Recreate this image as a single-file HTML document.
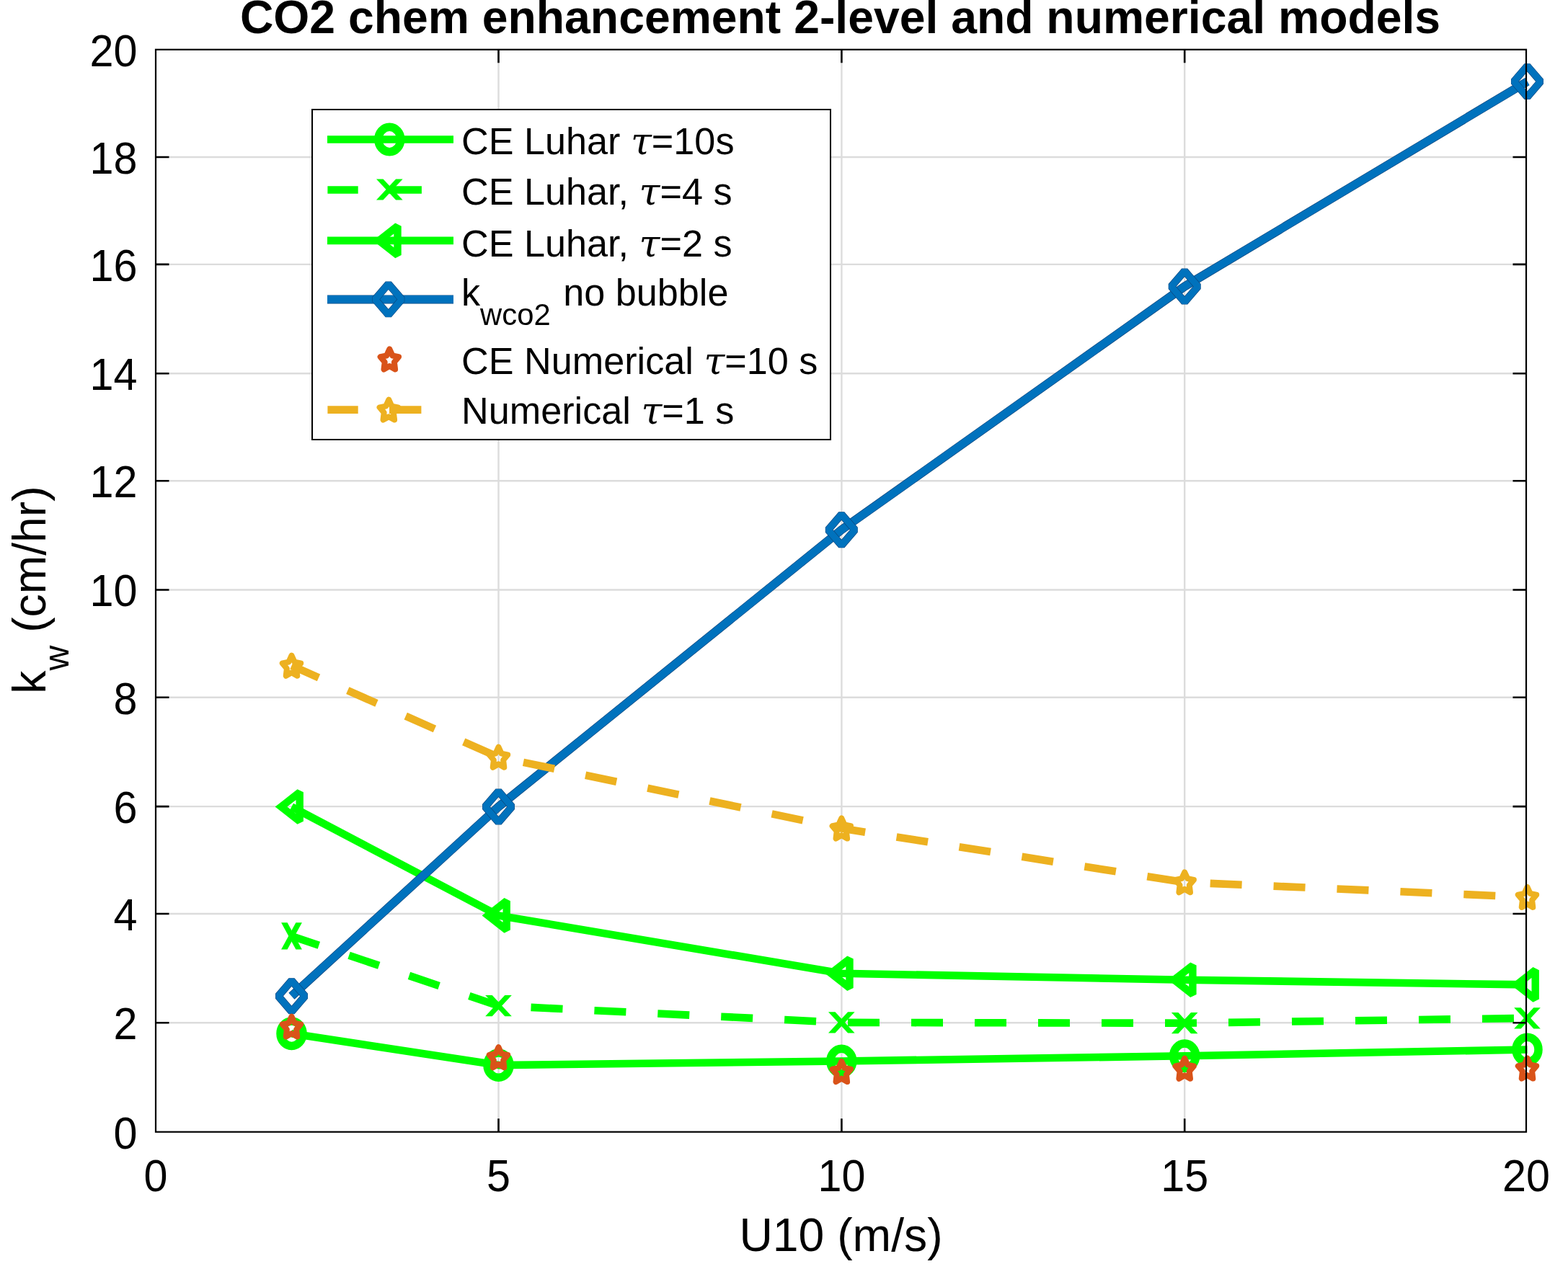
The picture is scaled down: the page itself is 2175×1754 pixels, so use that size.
<!DOCTYPE html><html><head><meta charset="utf-8"><style>html,body{margin:0;padding:0;background:#fff;}svg{display:block;}text{font-family:"Liberation Sans",Arial,sans-serif;}</style></head><body>
<svg width="2175" height="1754" viewBox="0 0 2175 1754">
<rect width="2175" height="1754" fill="#fff"/>
<path d="M691.5 68.8V1570.7M1167.4 68.8V1570.7M1643.2 68.8V1570.7M216.0 218.0H2117.0M216.0 366.9H2117.0M216.0 518.2H2117.0M216.0 667.3H2117.0M216.0 818.5H2117.0M216.0 967.7H2117.0M216.0 1119.1H2117.0M216.0 1268.0H2117.0M216.0 1419.3H2117.0" stroke="#dcdcdc" stroke-width="2.4" fill="none"/>
<path d="M404.5 1434.3 L691.5 1478.1 L1167.3 1472.5 L1643.2 1465.3 L2118.5 1456.5" fill="none" stroke="#00ff00" stroke-width="10.6" stroke-linejoin="round"/>
<ellipse cx="404.5" cy="1434.3" rx="15.5" ry="17.2" fill="none" stroke="#00ff00" stroke-width="11.5"/>
<ellipse cx="691.5" cy="1478.1" rx="15.5" ry="17.2" fill="none" stroke="#00ff00" stroke-width="11.5"/>
<ellipse cx="1167.3" cy="1472.5" rx="15.5" ry="17.2" fill="none" stroke="#00ff00" stroke-width="11.5"/>
<ellipse cx="1643.2" cy="1465.3" rx="15.5" ry="17.2" fill="none" stroke="#00ff00" stroke-width="11.5"/>
<ellipse cx="2118.5" cy="1456.5" rx="15.5" ry="17.2" fill="none" stroke="#00ff00" stroke-width="11.5"/>
<path d="M404.5 1298.9 L691.5 1395.7 L1167.3 1418.9 L1643.2 1419.7 L2118.5 1412.9" fill="none" stroke="#00ff00" stroke-width="10.6" stroke-linejoin="round" stroke-dasharray="44.0 44.0" stroke-dashoffset="4.04"/>
<polygon points="390.1,1317.6 398.6,1317.6 418.9,1280.2 410.4,1280.2" fill="#00ff00"/><polygon points="390.1,1280.2 398.6,1280.2 418.9,1317.6 410.4,1317.6" fill="#00ff00"/>
<polygon points="673.2,1410.3 682.7,1410.3 709.8,1381.1 700.3,1381.1" fill="#00ff00"/><polygon points="673.2,1381.1 682.7,1381.1 709.8,1410.3 700.3,1410.3" fill="#00ff00"/>
<polygon points="1149.0,1433.5 1158.5,1433.5 1185.6,1404.3 1176.1,1404.3" fill="#00ff00"/><polygon points="1149.0,1404.3 1158.5,1404.3 1185.6,1433.5 1176.1,1433.5" fill="#00ff00"/>
<polygon points="1624.9,1434.3 1634.4,1434.3 1661.5,1405.1 1652.0,1405.1" fill="#00ff00"/><polygon points="1624.9,1405.1 1634.4,1405.1 1661.5,1434.3 1652.0,1434.3" fill="#00ff00"/>
<polygon points="2100.2,1427.5 2109.7,1427.5 2136.8,1398.3 2127.3,1398.3" fill="#00ff00"/><polygon points="2100.2,1398.3 2109.7,1398.3 2136.8,1427.5 2127.3,1427.5" fill="#00ff00"/>
<path d="M404.5 1119.5 L691.5 1270.4 L1167.3 1350.7 L1643.2 1359.7 L2118.5 1366.4" fill="none" stroke="#00ff00" stroke-width="10.6" stroke-linejoin="round"/>
<path d="M390.0 1119.5L415.7 1099.3L415.7 1139.7z" fill="none" stroke="#00ff00" stroke-width="10.4" stroke-linejoin="miter" stroke-miterlimit="1.8"/>
<path d="M677.0 1270.4L702.7 1250.2L702.7 1290.6z" fill="none" stroke="#00ff00" stroke-width="10.4" stroke-linejoin="miter" stroke-miterlimit="1.8"/>
<path d="M1152.8 1350.7L1178.5 1330.5L1178.5 1370.9z" fill="none" stroke="#00ff00" stroke-width="10.4" stroke-linejoin="miter" stroke-miterlimit="1.8"/>
<path d="M1628.7 1359.7L1654.4 1339.5L1654.4 1379.9z" fill="none" stroke="#00ff00" stroke-width="10.4" stroke-linejoin="miter" stroke-miterlimit="1.8"/>
<path d="M2104.0 1366.4L2129.7 1346.2L2129.7 1386.6z" fill="none" stroke="#00ff00" stroke-width="10.4" stroke-linejoin="miter" stroke-miterlimit="1.8"/>
<path d="M404.5 1382.2 L691.5 1119.5 L1167.3 735.2 L1643.2 397.5 L2118.5 113.1" fill="none" stroke="#0b4a82" stroke-width="12.0" stroke-linejoin="round"/>
<path d="M404.5 1382.2 L691.5 1119.5 L1167.3 735.2 L1643.2 397.5 L2118.5 113.1" fill="none" stroke="#0072bd" stroke-width="10.6" stroke-linejoin="round"/>
<path d="M404.5 1360.7l18.5 21.5l-18.5 21.5l-18.5 -21.5z" fill="none" stroke="#0b4a82" stroke-width="10.6" stroke-linejoin="bevel"/><path d="M404.5 1360.7l18.5 21.5l-18.5 21.5l-18.5 -21.5z" fill="none" stroke="#0072bd" stroke-width="9.2" stroke-linejoin="bevel"/>
<path d="M691.5 1098.0l18.5 21.5l-18.5 21.5l-18.5 -21.5z" fill="none" stroke="#0b4a82" stroke-width="10.6" stroke-linejoin="bevel"/><path d="M691.5 1098.0l18.5 21.5l-18.5 21.5l-18.5 -21.5z" fill="none" stroke="#0072bd" stroke-width="9.2" stroke-linejoin="bevel"/>
<path d="M1167.3 713.7l18.5 21.5l-18.5 21.5l-18.5 -21.5z" fill="none" stroke="#0b4a82" stroke-width="10.6" stroke-linejoin="bevel"/><path d="M1167.3 713.7l18.5 21.5l-18.5 21.5l-18.5 -21.5z" fill="none" stroke="#0072bd" stroke-width="9.2" stroke-linejoin="bevel"/>
<path d="M1643.2 376.0l18.5 21.5l-18.5 21.5l-18.5 -21.5z" fill="none" stroke="#0b4a82" stroke-width="10.6" stroke-linejoin="bevel"/><path d="M1643.2 376.0l18.5 21.5l-18.5 21.5l-18.5 -21.5z" fill="none" stroke="#0072bd" stroke-width="9.2" stroke-linejoin="bevel"/>
<path d="M2118.5 91.6l18.5 21.5l-18.5 21.5l-18.5 -21.5z" fill="none" stroke="#0b4a82" stroke-width="10.6" stroke-linejoin="bevel"/><path d="M2118.5 91.6l18.5 21.5l-18.5 21.5l-18.5 -21.5z" fill="none" stroke="#0072bd" stroke-width="9.2" stroke-linejoin="bevel"/>
<polygon points="404.5,1410.6 408.6,1419.6 417.2,1421.3 411.1,1428.6 412.3,1438.6 404.5,1434.1 396.7,1438.6 397.9,1428.6 391.8,1421.3 400.4,1419.6" fill="none" stroke="#d95319" stroke-width="8" stroke-linejoin="round"/>
<polygon points="691.5,1453.2 695.6,1462.2 704.2,1463.9 698.1,1471.2 699.3,1481.2 691.5,1476.8 683.7,1481.2 684.9,1471.2 678.8,1463.9 687.4,1462.2" fill="none" stroke="#d95319" stroke-width="8" stroke-linejoin="round"/>
<polygon points="1167.3,1473.0 1171.4,1482.0 1180.0,1483.7 1173.9,1491.0 1175.1,1501.1 1167.3,1496.6 1159.5,1501.1 1160.7,1491.0 1154.6,1483.7 1163.2,1482.0" fill="none" stroke="#d95319" stroke-width="8" stroke-linejoin="round"/>
<polygon points="1643.2,1468.7 1647.3,1477.7 1655.9,1479.5 1649.8,1486.7 1651.0,1496.8 1643.2,1492.3 1635.4,1496.8 1636.6,1486.7 1630.5,1479.5 1639.1,1477.7" fill="none" stroke="#d95319" stroke-width="8" stroke-linejoin="round"/>
<polygon points="2118.5,1468.5 2122.6,1477.5 2131.2,1479.2 2125.1,1486.5 2126.3,1496.6 2118.5,1492.1 2110.7,1496.6 2111.9,1486.5 2105.8,1479.2 2114.4,1477.5" fill="none" stroke="#d95319" stroke-width="8" stroke-linejoin="round"/>
<path d="M404.5 923.7 L691.5 1050.7 L1167.3 1149.5 L1643.2 1224.3 L2118.5 1244.9" fill="none" stroke="#edb120" stroke-width="10.6" stroke-linejoin="round" stroke-dasharray="44.0 44.0" stroke-dashoffset="2.97"/>
<polygon points="404.5,909.7 408.6,918.7 417.2,920.4 411.1,927.7 412.3,937.7 404.5,933.3 396.7,937.7 397.9,927.7 391.8,920.4 400.4,918.7" fill="none" stroke="#edb120" stroke-width="8" stroke-linejoin="round"/>
<polygon points="691.5,1036.7 695.6,1045.7 704.2,1047.4 698.1,1054.7 699.3,1064.7 691.5,1060.2 683.7,1064.7 684.9,1054.7 678.8,1047.4 687.4,1045.7" fill="none" stroke="#edb120" stroke-width="8" stroke-linejoin="round"/>
<polygon points="1167.3,1135.5 1171.4,1144.5 1180.0,1146.2 1173.9,1153.5 1175.1,1163.6 1167.3,1159.1 1159.5,1163.6 1160.7,1153.5 1154.6,1146.2 1163.2,1144.5" fill="none" stroke="#edb120" stroke-width="8" stroke-linejoin="round"/>
<polygon points="1643.2,1210.3 1647.3,1219.2 1655.9,1221.0 1649.8,1228.3 1651.0,1238.3 1643.2,1233.8 1635.4,1238.3 1636.6,1228.3 1630.5,1221.0 1639.1,1219.2" fill="none" stroke="#edb120" stroke-width="8" stroke-linejoin="round"/>
<polygon points="2118.5,1230.9 2122.6,1239.9 2131.2,1241.6 2125.1,1248.9 2126.3,1258.9 2118.5,1254.5 2110.7,1258.9 2111.9,1248.9 2105.8,1241.6 2114.4,1239.9" fill="none" stroke="#edb120" stroke-width="8" stroke-linejoin="round"/>
<path d="M691.5 1570.7V1552.2M691.5 68.8V87.3M1167.4 1570.7V1552.2M1167.4 68.8V87.3M1643.2 1570.7V1552.2M1643.2 68.8V87.3M216.0 218.0H234.5M2117.0 218.0H2098.5M216.0 366.9H234.5M2117.0 366.9H2098.5M216.0 518.2H234.5M2117.0 518.2H2098.5M216.0 667.3H234.5M2117.0 667.3H2098.5M216.0 818.5H234.5M2117.0 818.5H2098.5M216.0 967.7H234.5M2117.0 967.7H2098.5M216.0 1119.1H234.5M2117.0 1119.1H2098.5M216.0 1268.0H234.5M2117.0 1268.0H2098.5M216.0 1419.3H234.5M2117.0 1419.3H2098.5" stroke="#000" stroke-width="2.6" fill="none"/>
<rect x="216.0" y="68.8" width="1901.0" height="1501.9" fill="none" stroke="#000" stroke-width="2.2"/>
<text transform="translate(190.5 91.7) scale(1 1.060)" font-size="59.3" text-anchor="end">20</text>
<text transform="translate(190.5 240.9) scale(1 1.060)" font-size="59.3" text-anchor="end">18</text>
<text transform="translate(190.5 389.8) scale(1 1.060)" font-size="59.3" text-anchor="end">16</text>
<text transform="translate(190.5 541.1) scale(1 1.060)" font-size="59.3" text-anchor="end">14</text>
<text transform="translate(190.5 690.2) scale(1 1.060)" font-size="59.3" text-anchor="end">12</text>
<text transform="translate(190.5 841.4) scale(1 1.060)" font-size="59.3" text-anchor="end">10</text>
<text transform="translate(190.5 990.6) scale(1 1.060)" font-size="59.3" text-anchor="end">8</text>
<text transform="translate(190.5 1142.0) scale(1 1.060)" font-size="59.3" text-anchor="end">6</text>
<text transform="translate(190.5 1290.9) scale(1 1.060)" font-size="59.3" text-anchor="end">4</text>
<text transform="translate(190.5 1442.2) scale(1 1.060)" font-size="59.3" text-anchor="end">2</text>
<text transform="translate(190.5 1593.6) scale(1 1.060)" font-size="59.3" text-anchor="end">0</text>
<text transform="translate(216.0 1652.7) scale(1 1.060)" font-size="59.3" text-anchor="middle">0</text>
<text transform="translate(691.5 1652.7) scale(1 1.060)" font-size="59.3" text-anchor="middle">5</text>
<text transform="translate(1167.4 1652.7) scale(1 1.060)" font-size="59.3" text-anchor="middle">10</text>
<text transform="translate(1643.2 1652.7) scale(1 1.060)" font-size="59.3" text-anchor="middle">15</text>
<text transform="translate(2117.0 1652.7) scale(1 1.060)" font-size="59.3" text-anchor="middle">20</text>
<text x="1166.5" y="1736.0" font-size="64.3" text-anchor="middle">U10 (m/s)</text>
<text transform="translate(63,818.5) rotate(-90)" font-size="64.3" text-anchor="middle">k<tspan font-size="48.2" dy="31.5">w</tspan><tspan dy="-31.5"> (cm/hr)</tspan></text>
<text x="1165.5" y="45.8" font-size="64.3" font-weight="bold" text-anchor="middle">CO2 chem enhancement 2-level and numerical models</text>
<rect x="433" y="152" width="719" height="458" fill="#fff" stroke="#000" stroke-width="2"/>
<path d="M454.0 193.5H629.0" stroke="#00ff00" stroke-width="10.6"/>
<ellipse cx="540.3" cy="193.5" rx="15.5" ry="17.2" fill="none" stroke="#00ff00" stroke-width="11.5"/>
<path d="M454.4 263.5H496.7" stroke="#00ff00" stroke-width="10.6"/>
<path d="M540.0 263.5H584.9" stroke="#00ff00" stroke-width="10.6"/>
<polygon points="522.0,277.6 531.5,277.6 558.6,248.4 549.1,248.4" fill="#00ff00"/><polygon points="522.0,248.4 531.5,248.4 558.6,277.6 549.1,277.6" fill="#00ff00"/>
<path d="M454.0 333.9H629.0" stroke="#00ff00" stroke-width="10.6"/>
<path d="M525.8 333.9L551.5 313.7L551.5 354.1z" fill="none" stroke="#00ff00" stroke-width="10.4" stroke-linejoin="miter" stroke-miterlimit="1.8"/>
<path d="M454.0 415.4H629.0" stroke="#0b4a82" stroke-width="12.0"/>
<path d="M454.0 415.4H629.0" stroke="#0072bd" stroke-width="10.6"/>
<path d="M538.8 393.9l18.5 21.5l-18.5 21.5l-18.5 -21.5z" fill="none" stroke="#0b4a82" stroke-width="10.6" stroke-linejoin="bevel"/><path d="M538.8 393.9l18.5 21.5l-18.5 21.5l-18.5 -21.5z" fill="none" stroke="#0072bd" stroke-width="9.2" stroke-linejoin="bevel"/>
<polygon points="540.3,484.5 544.4,493.5 553.0,495.2 546.9,502.5 548.1,512.5 540.3,508.1 532.5,512.5 533.7,502.5 527.6,495.2 536.2,493.5" fill="none" stroke="#d95319" stroke-width="8" stroke-linejoin="round"/>
<path d="M454.4 568.6H496.7" stroke="#edb120" stroke-width="10.6"/>
<path d="M540.0 568.6H584.4" stroke="#edb120" stroke-width="10.6"/>
<polygon points="539.3,554.6 543.4,563.6 552.0,565.3 545.9,572.6 547.1,582.6 539.3,578.2 531.5,582.6 532.7,572.6 526.6,565.3 535.2,563.6" fill="none" stroke="#edb120" stroke-width="8" stroke-linejoin="round"/>
<text x="640.0" y="214.0" font-size="52.2">CE Luhar <tspan font-family="DejaVu Serif" font-style="italic">τ</tspan>=10s</text>
<text x="640.0" y="284.4" font-size="52.2">CE Luhar, <tspan font-family="DejaVu Serif" font-style="italic">τ</tspan>=4 s</text>
<text x="640.0" y="355.5" font-size="52.2">CE Luhar, <tspan font-family="DejaVu Serif" font-style="italic">τ</tspan>=2 s</text>
<text x="640.0" y="424.3" font-size="52.2">k<tspan font-size="41.8" dy="26.8">wco2</tspan><tspan dy="-26.8" dx="3"> no bubble</tspan></text>
<text x="640.0" y="519.2" font-size="52.2">CE Numerical <tspan font-family="DejaVu Serif" font-style="italic">τ</tspan>=10 s</text>
<text x="640.0" y="588.0" font-size="52.2">Numerical <tspan font-family="DejaVu Serif" font-style="italic">τ</tspan>=1 s</text>
</svg></body></html>
